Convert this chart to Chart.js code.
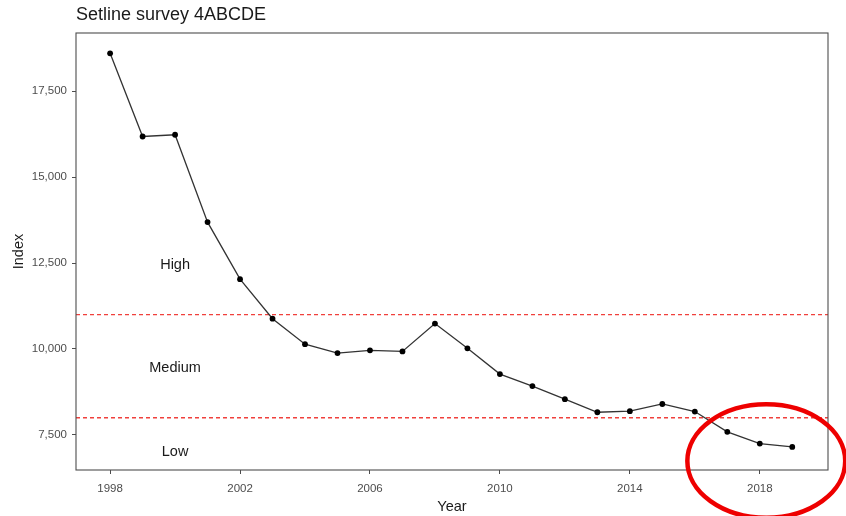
<!DOCTYPE html>
<html>
<head>
<meta charset="utf-8">
<script src="https://cdn.jsdelivr.net/npm/chart.js@4"></script>
<style>
html,body{margin:0;padding:0;background:#fff;}
#wrap{width:846px;height:516px;position:relative;}
</style>
</head>
<body>
<div id="wrap"><canvas id="c" width="846" height="516"></canvas></div>
<script>
const years = [1998,1999,2000,2001,2002,2003,2004,2005,2006,2007,2008,2009,2010,2011,2012,2013,2014,2015,2016,2017,2018,2019];
const indexValues = [18600,16180,16230,13690,12030,10880,10140,9880,9960,9930,10740,10020,9270,8920,8540,8160,8190,8400,8180,7590,7250,7150];
const thresholds = [11000, 8000];
const zoneNames = ['High','Medium','Low'];
const zoneLabelYears = [2000,2000,2000];
const zoneLabelValues = [12440,9450,6990];
const xTicks = [1998,2002,2006,2010,2014,2018];
const yTicks = [7500,10000,12500,15000,17500];
const xRange = [1996.95, 2020.1];
const yRange = [6480, 19190];
const highlight = {year: 2018.2, value: 6740, rxYears: 2.43, ryValue: 1650};
const titleText = 'Setline survey 4ABCDE';

const FONT = "'Liberation Sans', Arial, sans-serif";

const datasets = [{
  data: years.map((y,i)=>({x:y,y:indexValues[i]})),
  borderColor:'#333', borderWidth:1.3,
  pointBackgroundColor:'#000', pointBorderColor:'#000', pointRadius:2.9, pointBorderWidth:0,
  tension:0
}];
thresholds.forEach(t=>datasets.push({
  data:[{x:xRange[0],y:t},{x:xRange[1],y:t}],
  borderColor:'#f0403c', borderWidth:1.3, borderDash:[4,3], pointRadius:0
}));

const overlay = {
  id:'overlay',
  beforeDraw(chart){
    const {ctx} = chart;
    ctx.save(); ctx.fillStyle='#fff'; ctx.fillRect(0,0,chart.width,chart.height); ctx.restore();
  },
  afterDatasetsDraw(chart){
    const {ctx, chartArea:a, scales:{x,y}} = chart;
    ctx.save();
    ctx.fillStyle='#1a1a1a'; ctx.font='14.5px '+FONT; ctx.textAlign='center'; ctx.textBaseline='middle';
    zoneNames.forEach((n,i)=>ctx.fillText(n, x.getPixelForValue(zoneLabelYears[i]), y.getPixelForValue(zoneLabelValues[i])));
    ctx.strokeStyle='#4d4d4d'; ctx.lineWidth=1.1;
    ctx.strokeRect(a.left, a.top, a.right-a.left, a.bottom-a.top);
    ctx.fillStyle='#1a1a1a'; ctx.font='18px '+FONT; ctx.textAlign='left'; ctx.textBaseline='middle';
    ctx.fillText(titleText, a.left, 15);
    ctx.restore();
  },
  afterDraw(chart){
    const {ctx, scales:{x,y}} = chart;
    const cx = x.getPixelForValue(highlight.year), cy = y.getPixelForValue(highlight.value);
    const rx = Math.abs(x.getPixelForValue(highlight.year+highlight.rxYears)-cx);
    const ry = Math.abs(y.getPixelForValue(highlight.value+highlight.ryValue)-cy);
    ctx.save();
    ctx.strokeStyle='#ee0000'; ctx.lineWidth=4.5;
    ctx.beginPath(); ctx.ellipse(cx,cy,rx,ry,0,0,Math.PI*2); ctx.stroke();
    ctx.restore();
  }
};

new Chart(document.getElementById('c'), {
  type:'line',
  data:{datasets},
  plugins:[overlay],
  options:{
    responsive:false, animation:false, devicePixelRatio:1,
    layout:{padding:{top:33,right:18,left:0,bottom:0}},
    plugins:{legend:{display:false}, tooltip:{enabled:false}, title:{display:false}},
    scales:{
      x:{type:'linear', min:xRange[0], max:xRange[1],
        afterBuildTicks(s){ s.ticks = xTicks.map(v=>({value:v})); },
        afterFit(s){ s.height = 46; },
        grid:{display:true, drawOnChartArea:false, drawTicks:true, tickLength:4, color:'#4d4d4d'},
        border:{display:false},
        ticks:{color:'#4d4d4d', font:{family:FONT,size:11.5}, padding:8, maxRotation:0, callback:v=>String(v)},
        title:{display:true, text:'Year', color:'#1a1a1a', font:{family:FONT,size:14.5}, padding:{top:0,bottom:0}}
      },
      y:{type:'linear', min:yRange[0], max:yRange[1],
        afterBuildTicks(s){ s.ticks = yTicks.map(v=>({value:v})); },
        afterFit(s){ s.width = 76; },
        grid:{display:true, drawOnChartArea:false, drawTicks:true, tickLength:4, color:'#4d4d4d'},
        border:{display:false},
        ticks:{color:'#4d4d4d', font:{family:FONT,size:11.5}, padding:5, callback:v=>v.toLocaleString('en-US')},
        title:{display:true, text:'Index', color:'#1a1a1a', font:{family:FONT,size:14.5}, padding:{top:10,bottom:0}}
      }
    }
  }
});
</script>
</body>
</html>
